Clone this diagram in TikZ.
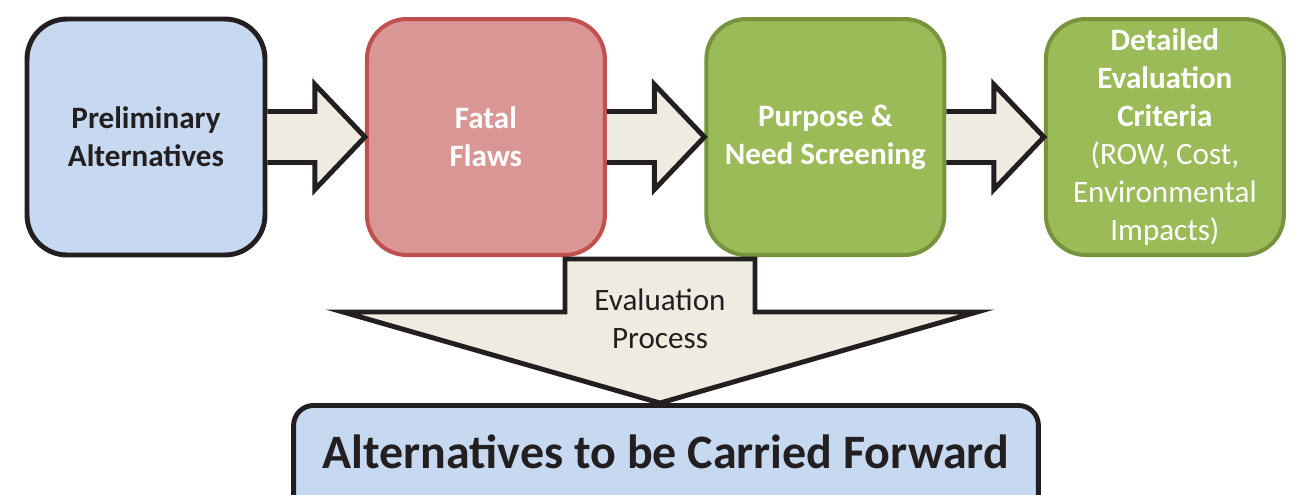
\documentclass[tikz,border=0pt]{standalone}
\usepackage{fontspec}
\setmainfont{Carlito}
\usetikzlibrary{positioning,calc}

\definecolor{boxblue}{HTML}{C6D9F1}
\definecolor{boxred}{HTML}{D99694}
\definecolor{edgered}{HTML}{C0504D}
\definecolor{boxgreen}{HTML}{9BBB59}
\definecolor{edgegreen}{HTML}{77933C}
\definecolor{arrowtan}{HTML}{EEECE1}
\definecolor{inkdark}{HTML}{231F20}

\tikzset{
  stagebox/.style={rounded corners=0.8cm, minimum width=4.76cm, minimum height=4.72cm,
    align=center, font=\fontsize{17.7}{21.6}\selectfont},
  blackedge/.style={draw=inkdark, line width=2.8pt},
  arrowfill/.style={fill=arrowtan, draw=inkdark, line width=2.8pt},
}
\newcommand{\blockarrow}[2]{%
  \filldraw[arrowfill] ($(#1.east)+(0,-25.5)$) -- ($(#2.west)+(-50,-25.5)$)
    -- ($(#2.west)+(-50,-52.5)$) -- (#2.west) -- ($(#2.west)+(-50,52.5)$)
    -- ($(#2.west)+(-50,25.5)$) -- ($(#1.east)+(0,25.5)$);}

\begin{document}
\begin{tikzpicture}[x=0.02cm, y=-0.02cm]
\clip (0,0) rectangle (1294,494);
% top row of stages:
\node[stagebox, blackedge, fill=boxblue, text=inkdark] (prelim) at (146,137)
  {\bfseries Preliminary\\\bfseries Alternatives};
\node[stagebox, fill=boxred, draw=edgered, line width=2.3pt, text=white, right=1.95cm of prelim] (fatal)
  {\bfseries Fatal\\\bfseries Flaws};
\node[stagebox, fill=boxgreen, draw=edgegreen, line width=2.3pt, text=white, right=1.95cm of fatal] (purpose)
  {\bfseries Purpose \&\\\bfseries Need Screening};
\node[stagebox, fill=boxgreen, draw=edgegreen, line width=2.3pt, text=white, right=1.95cm of purpose] (criteria)
  {\bfseries Detailed\\\bfseries Evaluation\\\bfseries Criteria\\(ROW, Cost,\\Environmental\\Impacts)};
% arrows between stages:
\blockarrow{prelim}{fatal}
\blockarrow{fatal}{purpose}
\blockarrow{purpose}{criteria}
% result box:
\node[blackedge, fill=boxblue, rounded corners=0.4cm, minimum width=14.9cm, minimum height=4cm,
  anchor=north] (fwd) at (666,403) {};
\node[text=inkdark, font=\fontsize{27.3}{33}\selectfont\bfseries] (fwdtext) at ($(fwd.north)+(0,49)$)
  {Alternatives to be Carried Forward};
% big down arrow:
\filldraw[arrowfill] (565,259) -- (565,312) -- (343,312) -- ($(fwd.north)+(-6,0)$)
  -- (977,312) -- (755,312) -- (755,259) -- cycle;
\node[text=inkdark, align=center, font=\fontsize{17.7}{21.6}\selectfont] (evalproc) at (660,319)
  {Evaluation\\Process};
\end{tikzpicture}
\end{document}
